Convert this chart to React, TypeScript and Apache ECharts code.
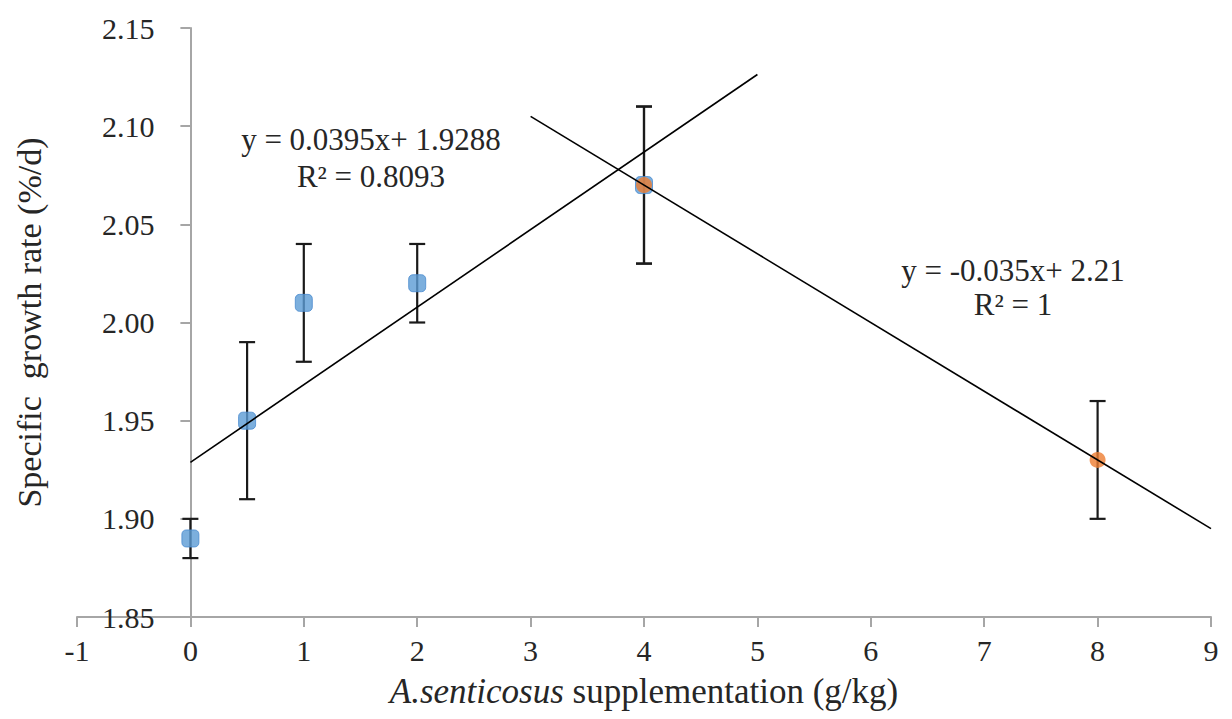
import React, { useEffect, useRef } from "react";
import * as echarts from "echarts";

const FONT = "Liberation Serif";
const TEXT = "#262626";

// Blue series (linear phase)
const blueX = [0, 0.5, 1, 2, 4];
const blueY = [1.89, 1.95, 2.01, 2.02, 2.07];
const blueErr = [0.01, 0.04, 0.03, 0.02, 0.04];

// Orange series (declining phase)
const orangeX = [4, 8];
const orangeY = [2.07, 1.93];
const orangeErr = [0.04, 0.03];

// Trendline end points
const trend1 = [
  [0, 1.9288],
  [5, 2.1263],
];
const trend2 = [
  [3, 2.105],
  [9, 1.895],
];

const eq1 = ["y = 0.0395x+ 1.9288", "R² = 0.8093"];
const eq2 = ["y = -0.035x+ 2.21", "R² = 1"];

const xName = "{i|A.senticosus} supplementation (g/kg)";
const yName = "Specific  growth rate (%/d)";

export default function App() {
  const ref = useRef<HTMLDivElement>(null);

  useEffect(() => {
    if (!ref.current) return;
    const chart = echarts.init(ref.current, null, { renderer: "svg" });

    const errData = [
      ...blueX.map((x, i) => [x, blueY[i], blueErr[i]]),
      ...orangeX.map((x, i) => [x, orangeY[i], orangeErr[i]]),
    ];

    const renderErr = (params: any, api: any) => {
      const x = api.value(0);
      const y = api.value(1);
      const e = api.value(2);
      const top = api.coord([x, y + e]);
      const bot = api.coord([x, y - e]);
      const hw = 8;
      const st = { stroke: "#1a1a1a", lineWidth: 2.2 };
      return {
        type: "group",
        children: [
          { type: "line", shape: { x1: top[0], y1: top[1], x2: bot[0], y2: bot[1] }, style: st },
          { type: "line", shape: { x1: top[0] - hw, y1: top[1], x2: top[0] + hw, y2: top[1] }, style: st },
          { type: "line", shape: { x1: bot[0] - hw, y1: bot[1], x2: bot[0] + hw, y2: bot[1] }, style: st },
        ],
      };
    };

    const eqStyle = (t: string, x: number, y: number) => ({
      type: "text",
      x,
      y,
      z: 100,
      style: {
        text: t,
        fontFamily: FONT,
        fontSize: 31,
        fill: TEXT,
        textAlign: "center",
        textVerticalAlign: "middle",
      },
    });

    chart.setOption({
      animation: false,
      backgroundColor: "#ffffff",
      textStyle: { fontFamily: FONT },
      grid: {
        left: 77,
        right: 21,
        top: 28,
        bottom: 102,
        containLabel: false,
        outerBoundsMode: "none",
      },
      xAxis: {
        type: "value",
        min: -1,
        max: 9,
        interval: 1,
        splitLine: { show: false },
        axisLine: { show: true, onZero: false, lineStyle: { color: "#a6a6a6", width: 2 } },
        axisTick: { show: true, length: 10, lineStyle: { color: "#a6a6a6", width: 2 } },
        axisLabel: { fontFamily: FONT, fontSize: 30, color: TEXT, margin: 18 },
        name: xName,
        nameLocation: "middle",
        nameGap: 57,
        nameTextStyle: {
          fontFamily: FONT,
          fontSize: 35,
          color: TEXT,
          rich: {
            i: { fontFamily: FONT, fontSize: 35, fontStyle: "italic", color: TEXT },
          },
        },
      },
      yAxis: {
        type: "value",
        min: 1.85,
        max: 2.15,
        interval: 0.05,
        offset: -113.4,
        splitLine: { show: false },
        axisLine: { show: true, onZero: false, lineStyle: { color: "#a6a6a6", width: 2 } },
        axisTick: { show: true, length: 10, lineStyle: { color: "#a6a6a6", width: 2 } },
        axisLabel: {
          fontFamily: FONT,
          fontSize: 30,
          color: TEXT,
          margin: 36,
          formatter: (v: number) => v.toFixed(2),
        },
        name: yName,
        nameLocation: "middle",
        nameGap: 144,
        nameTextStyle: { fontFamily: FONT, fontSize: 34, color: TEXT },
      },
      series: [
        {
          type: "custom",
          name: "err",
          renderItem: renderErr,
          data: errData,
          z: 2,
          encode: { x: 0, y: 1 },
        },
        {
          type: "scatter",
          name: "blue",
          data: blueX.map((x, i) => [x, blueY[i]]),
          symbol: "roundRect",
          symbolSize: 17,
          itemStyle: { color: "#5B9BD5", borderColor: "#4a8bd0", borderWidth: 1 },
          z: 3,
        },
        {
          type: "scatter",
          name: "orange",
          data: orangeX.map((x, i) => [x, orangeY[i]]),
          symbol: "circle",
          symbolSize: 16,
          itemStyle: { color: "#ED7D31" },
          z: 4,
        },
        {
          type: "line",
          name: "trend1",
          data: trend1,
          showSymbol: false,
          symbol: "none",
          lineStyle: { color: "#000000", width: 1.6 },
          z: 5,
        },
        {
          type: "line",
          name: "trend2",
          data: trend2,
          showSymbol: false,
          symbol: "none",
          lineStyle: { color: "#000000", width: 1.6 },
          z: 5,
        },
      ],
      graphic: [
        eqStyle(eq1[0], 371, 139),
        eqStyle(eq1[1], 371, 176),
        eqStyle(eq2[0], 1013, 270),
        eqStyle(eq2[1], 1013, 304),
      ],
    });

    return () => chart.dispose();
  }, []);

  return (
    <div
      ref={ref}
      style={{ position: "fixed", left: 0, top: 0, width: 1232, height: 719, background: "#fff" }}
    />
  );
}
